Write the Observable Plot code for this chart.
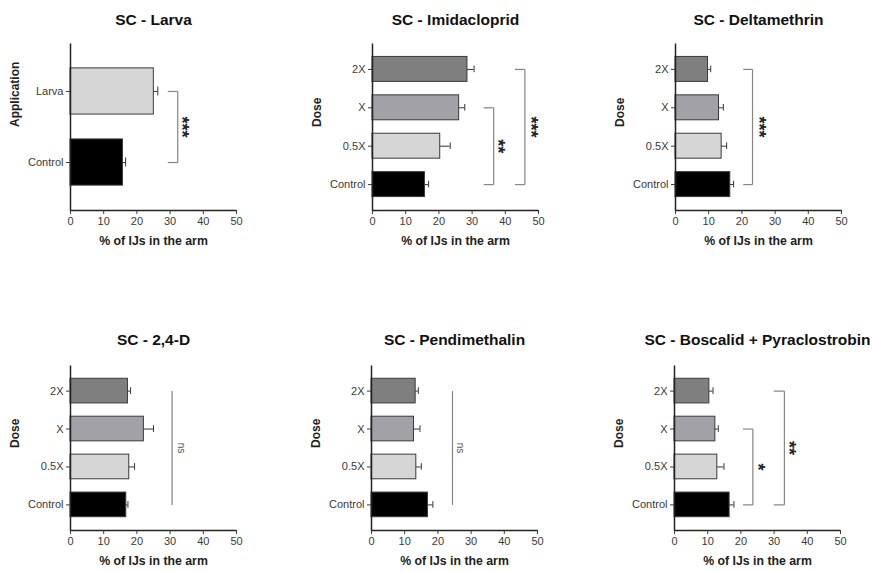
<!DOCTYPE html>
<html><head><meta charset="utf-8">
<script src="https://cdn.jsdelivr.net/npm/d3@7"></script>
<script src="https://cdn.jsdelivr.net/npm/@observablehq/plot@0.6"></script>
<style>
html,body{margin:0;padding:0;background:#fff;}
#wrap{position:relative;width:873px;height:571px;overflow:hidden;}
#wrap svg{position:absolute;overflow:visible;}
</style></head><body><div id="wrap"></div>
<script>
// ---- data ----
const xTicks = [0, 10, 20, 30, 40, 50];
const xLabel = "% of IJs in the arm";
const doseCategories = ["2X", "X", "0.5X", "Control"];
const larvaCategories = ["Larva", "Control"];

const larvaMean = [25.1, 15.8];
const larvaSem = [1.2, 0.8];
const imidaclopridMean = [28.6, 26.1, 20.4, 15.8];
const imidaclopridSem = [2.0, 1.7, 3.0, 1.1];
const deltamethrinMean = [9.8, 13.1, 13.9, 16.5];
const deltamethrinSem = [0.8, 1.3, 1.5, 1.0];
const d24Mean = [17.3, 22.1, 17.7, 16.8];
const d24Sem = [0.8, 2.9, 1.6, 0.5];
const pendimethalinMean = [13.3, 12.8, 13.5, 17.0];
const pendimethalinSem = [0.8, 1.8, 1.5, 1.5];
const boscalidMean = [10.5, 12.3, 12.9, 16.6];
const boscalidSem = [1.1, 0.9, 2.0, 1.3];

// significance annotations (x in % units)
const larvaSig = [{from: "Larva", to: "Control", x: 32.3, tick: 3.0, label: "***", labelX: 34.8, at: null}];
const imidaclopridSig = [
  {from: "X", to: "Control", x: 36.5, tick: 3.0, label: "**", labelX: 39.2, at: "0.5X"},
  {from: "2X", to: "Control", x: 45.9, tick: 3.0, label: "***", labelX: 49.0, at: null}
];
const deltamethrinSig = [{from: "2X", to: "Control", x: 23.2, tick: 2.8, label: "***", labelX: 26.3, at: null}];
const d24Sig = [{from: "2X", to: "Control", x: 30.6, tick: 0, label: "ns", labelX: 33.4, at: null}];
const pendimethalinSig = [{from: "2X", to: "Control", x: 24.4, tick: 0, label: "ns", labelX: 26.7, at: null}];
const boscalidSig = [
  {from: "X", to: "Control", x: 23.6, tick: 3.0, label: "*", labelX: 26.3, at: "0.5X"},
  {from: "2X", to: "Control", x: 33.1, tick: 3.2, label: "**", labelX: 35.8, at: null}
];

// ---- styles ----
const fills = {"2X": "#7f7f7f", "X": "#a1a1a7", "0.5X": "#d6d6d6", "Control": "#000000", "Larva": "#d6d6d6"};
const FONT = "'Liberation Sans', Arial, Helvetica, sans-serif";

function panel({title, ylabel, cats, mean, sem, sig, left, top, plotH, titleDy}) {
  const data = cats.map((c, i) => ({cat: c, mean: mean[i], hi: mean[i] + sem[i]}));
  const W = 166, mL = 70, mR = 40, mT = 43, mB = 50;
  const n = cats.length, pad = 0.35;
  const step = plotH / (n - pad + 2 * pad), bw = step * (1 - pad);
  const capInset = bw / 2 - (n === 2 ? 4.5 : 3.3);
  const brackets = sig.filter(d => d.tick > 0);
  const stars = sig.filter(d => d.label !== "ns");
  const ns = sig.filter(d => d.label === "ns");
  const starStyle = {x: "labelX", text: "label", rotate: 90, fontSize: 18, fontWeight: "bold", fill: "#222", dx: -4.5};
  const svg = Plot.plot({
    width: mL + W + mR,
    height: mT + plotH + mB,
    marginLeft: mL, marginRight: mR, marginTop: mT, marginBottom: mB,
    style: {fontFamily: FONT, fontSize: "11px", background: "transparent", overflow: "visible"},
    x: {domain: [0, 50], label: null},
    y: {domain: cats, padding: pad, round: false, label: null},
    marks: [
      Plot.barX(data, {x: "mean", y: "cat", fill: d => fills[d.cat], stroke: "#3a3a3a", strokeWidth: 1}),
      Plot.ruleY(data, {y: "cat", x1: "mean", x2: "hi", stroke: "#333", strokeWidth: 1}),
      Plot.tickX(data, {x: "hi", y: "cat", stroke: "#333", strokeWidth: 1, insetTop: capInset, insetBottom: capInset}),
      Plot.link(sig, {x1: "x", x2: "x", y1: "from", y2: "to", stroke: "#858585", strokeWidth: 1.2}),
      Plot.link(brackets, {x1: d => d.x - d.tick, x2: "x", y1: "from", y2: "from", stroke: "#858585", strokeWidth: 1.2}),
      Plot.link(brackets, {x1: d => d.x - d.tick, x2: "x", y1: "to", y2: "to", stroke: "#858585", strokeWidth: 1.2}),
      Plot.text(stars.filter(d => d.at), {...starStyle, y: "at"}),
      Plot.text(stars.filter(d => !d.at), {...starStyle, frameAnchor: "middle"}),
      Plot.text(ns, {x: "labelX", text: "label", rotate: 90, fontSize: 10, fill: "#555", frameAnchor: "middle"}),
      Plot.frame({stroke: "#222", strokeWidth: 1.5, strokeDasharray: `0,${W + plotH},${W + plotH}`}),
      Plot.axisY({tickSize: 4, tickPadding: 3, fontSize: 11, color: "#3a3a3a", label: null}),
      Plot.axisX({ticks: xTicks, tickSize: 4, tickPadding: 3, fontSize: 11, color: "#3a3a3a", label: null}),
      Plot.text([title], {text: d => d, frameAnchor: "top", lineAnchor: "middle", dy: titleDy, fontSize: 15.5, fontWeight: "bold", fill: "#111"}),
      Plot.text([xLabel], {text: d => d, frameAnchor: "bottom", lineAnchor: "middle", dy: 31, fontSize: 12.3, fontWeight: "bold", fill: "#222"}),
      Plot.text([ylabel], {text: d => d, frameAnchor: "left", dx: -55, rotate: -90, fontSize: 12, fontWeight: "bold", fill: "#222"})
    ]
  });
  svg.style.position = "absolute";
  svg.style.left = left + "px";
  svg.style.top = top + "px";
  document.getElementById("wrap").appendChild(svg);
}

panel({title: "SC - Larva", ylabel: "Application", cats: larvaCategories, mean: larvaMean, sem: larvaSem, sig: larvaSig, left: -0.5, top: 0, plotH: 167, titleDy: -23});
panel({title: "SC - Imidacloprid", ylabel: "Dose", cats: doseCategories, mean: imidaclopridMean, sem: imidaclopridSem, sig: imidaclopridSig, left: 301.5, top: 0, plotH: 167, titleDy: -23});
panel({title: "SC - Deltamethrin", ylabel: "Dose", cats: doseCategories, mean: deltamethrinMean, sem: deltamethrinSem, sig: deltamethrinSig, left: 605, top: 0, plotH: 167, titleDy: -23});
panel({title: "SC - 2,4-D", ylabel: "Dose", cats: doseCategories, mean: d24Mean, sem: d24Sem, sig: d24Sig, left: -0.5, top: 322, plotH: 165, titleDy: -25});
panel({title: "SC - Pendimethalin", ylabel: "Dose", cats: doseCategories, mean: pendimethalinMean, sem: pendimethalinSem, sig: pendimethalinSig, left: 301, top: 322, plotH: 165, titleDy: -25});
panel({title: "SC - Boscalid + Pyraclostrobin", ylabel: "Dose", cats: doseCategories, mean: boscalidMean, sem: boscalidSem, sig: boscalidSig, left: 603.5, top: 322, plotH: 165, titleDy: -25});
</script>
</body></html>
